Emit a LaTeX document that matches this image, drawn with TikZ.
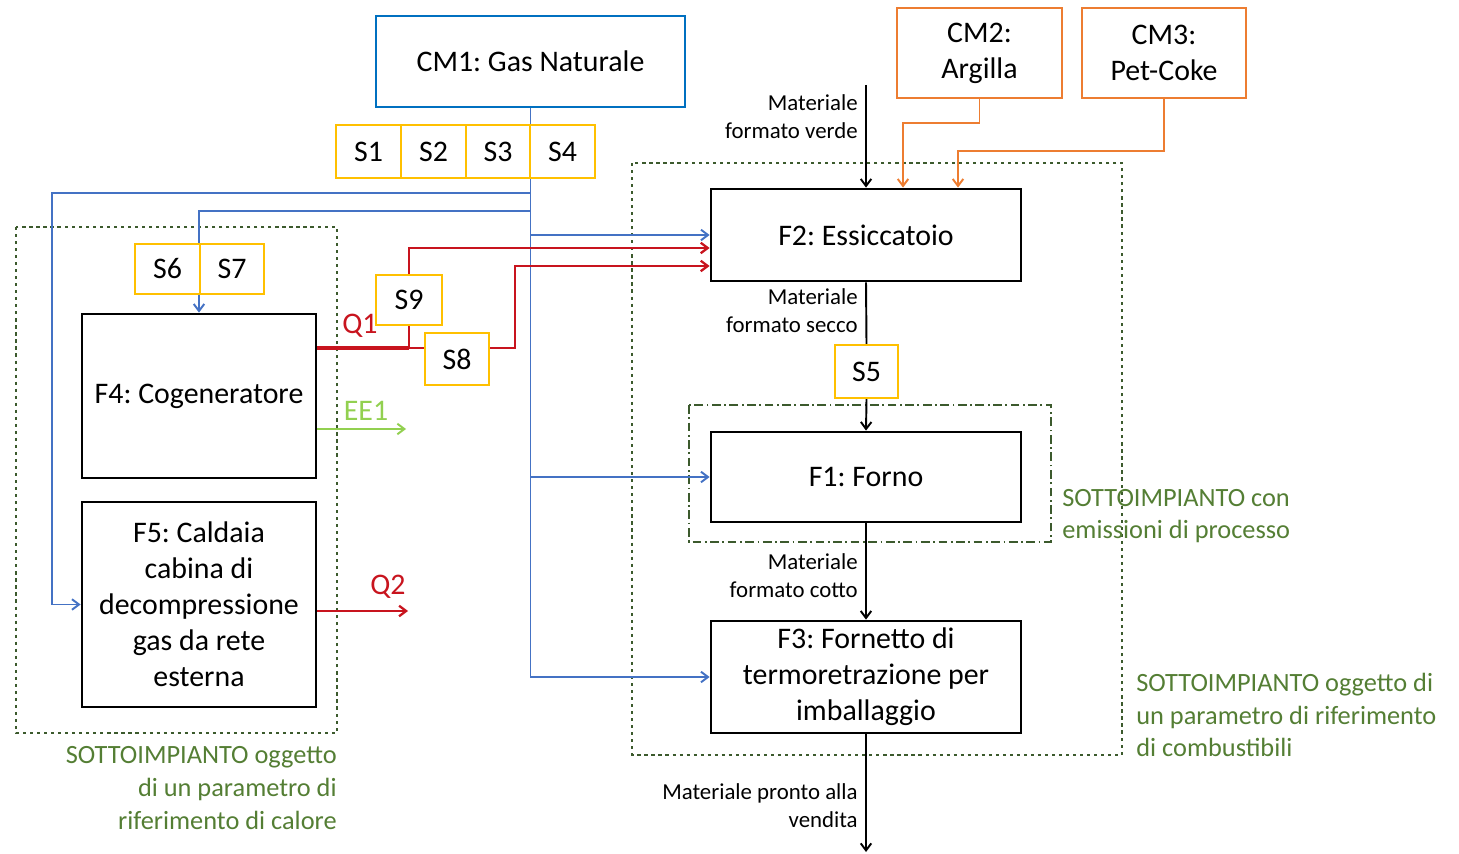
\documentclass[tikz,border=0pt]{standalone}
\usepackage{fontspec}
\setmainfont{Carlito}
\usetikzlibrary{arrows.meta,backgrounds,calc}
\frenchspacing

\definecolor{gasblue}{RGB}{68,114,196}
\definecolor{cmblue}{RGB}{0,112,192}
\definecolor{metergold}{RGB}{255,192,0}
\definecolor{clayorange}{RGB}{237,125,49}
\definecolor{heatred}{RGB}{200,20,30}
\definecolor{elgreen}{RGB}{146,208,80}
\definecolor{zonegreen}{RGB}{84,126,52}
\definecolor{zoneline}{RGB}{60,90,45}

\newcommand{\boxfont}{\fontsize{17}{20.5}\selectfont}
\newcommand{\flowfont}{\fontsize{13}{15.8}\selectfont}
\newcommand{\zonefont}{\fontsize{15}{18.6}\selectfont}

\tikzset{
  unitbox/.style={draw=black, line width=1.6pt, fill=white, align=center, inner sep=1pt, font=\boxfont},
  cmbox/.style={draw=cmblue, line width=1.1pt, fill=white, align=center, inner sep=1pt, font=\boxfont},
  claybox/.style={draw=clayorange, line width=1.1pt, fill=white, align=center, inner sep=1pt, font=\boxfont},
  meterbox/.style={draw=metergold, line width=1.2pt, fill=white, inner sep=0pt, font=\boxfont},
  flowtip/.style={-{Straight Barb[length=4pt,width=6pt]}},
  gasline/.style={draw=gasblue, line width=1.1pt},
  heatline/.style={draw=heatred, line width=1.3pt},
  elline/.style={draw=elgreen, line width=1.1pt},
  clayline/.style={draw=clayorange, line width=1.1pt},
  matline/.style={draw=black, line width=1.1pt},
  zone/.style={draw=zoneline, line width=1.5pt, dash pattern=on 1.8pt off 2.2pt},
  emzone/.style={draw=zoneline, line width=1.3pt, dash pattern=on 5pt off 2pt on 1pt off 2pt},
  flowlabel/.style={inner sep=0pt, align=right, font=\flowfont},
  zonelabel/.style={inner sep=0pt, text=zonegreen, font=\zonefont}
}

\begin{document}
\begin{tikzpicture}[x=0.02cm,y=-0.02cm]
\useasboundingbox (0,0) rectangle (1459,854);

% Drawing sources CM1 CM2 CM3
\node[cmbox, minimum width=6.18cm, minimum height=1.82cm] (CM1) at (530.5,61.5) {CM1: Gas Naturale};
\node[claybox, minimum width=3.3cm, minimum height=1.8cm] (CM2) at (979.5,53) {CM2:\\Argilla};
\node[claybox, minimum width=3.28cm, minimum height=1.8cm] (CM3) at (1164,53) {CM3:\\Pet-Coke};

% Drawing meters
\node[meterbox, minimum width=1.29cm, minimum height=1.06cm] (S1) at (368.5,151.5) {S1};
\node[meterbox, minimum width=1.29cm, minimum height=1.06cm] (S2) at (433.5,151.5) {S2};
\node[meterbox, minimum width=1.29cm, minimum height=1.06cm] (S3) at (498,151.5) {S3};
\node[meterbox, minimum width=1.29cm, minimum height=1.06cm] (S4) at (562.5,151.5) {S4};
\node[meterbox, minimum width=1.3cm, minimum height=1.0cm] (S6) at (167.5,269) {S6};
\node[meterbox, minimum width=1.28cm, minimum height=1.0cm] (S7) at (232,269) {S7};
\node[meterbox, minimum width=1.32cm, minimum height=1.0cm] (S9) at (409,300) {S9};
\node[meterbox, minimum width=1.28cm, minimum height=1.04cm] (S8) at (457,359) {S8};
\node[meterbox, minimum width=1.26cm, minimum height=1.06cm] (S5) at (866.5,371.5) {S5};

% Drawing units F1 ... F5
\node[unitbox, minimum width=4.68cm, minimum height=3.28cm] (F4) at (199,396) {F4: Cogeneratore};
\node[unitbox, minimum width=4.68cm, minimum height=4.1cm] (F5) at (199,604.5) {F5: Caldaia\\cabina di\\decompressione\\gas da rete\\esterna};
\node[unitbox, minimum width=6.2cm, minimum height=1.84cm] (F2) at (866,235) {F2: Essiccatoio};
\node[unitbox, minimum width=6.2cm, minimum height=1.8cm] (F1) at (866,477) {F1: Forno};
\node[unitbox, minimum width=6.2cm, minimum height=2.24cm] (F3) at (866,677) {F3: Fornetto di\\termoretrazione per\\imballaggio};

% Free ends and bends
\coordinate (g1) at (52,193);
\coordinate (g2) at (199,211);
\coordinate (q1) at (316,348);
\coordinate (r8) at (515,348);
\coordinate (ee) at (406,429);
\coordinate (q2) at (408,611);
\coordinate (o2) at (903,123);
\coordinate (o3) at (958,151);
\coordinate (mv) at (866,85);
\coordinate (mout) at (866,852);

\begin{scope}[on background layer]
% Drawing sub-installation boundaries
\draw[zone] (16,227) rectangle (337,733);
\draw[zone] (632,163) rectangle (1122,755);
\draw[emzone] (689,405) rectangle (1051,542);

% Drawing natural gas lines
\draw[gasline, flowtip] (CM1.south) |- (F3.west);
\draw[gasline, flowtip] (CM1.south |- g1) -- (g1) |- (F5.west);
\draw[gasline, flowtip] (CM1.south |- g2) -- (g2) -- (g2 |- F4.north);
\draw[gasline, flowtip] (CM1.south |- F2.west) -- (F2.west);
\draw[gasline, flowtip] (CM1.south |- F1.west) -- (F1.west);

% Drawing heat and power lines
\draw[heatline, line width=1.9pt] (F4.east |- q1) -- (S9.south |- q1);
\draw[heatline] (S9.south |- q1) -- (S8.west |- q1);
\draw[heatline] (S9.south) -- (S9.south |- q1);
\draw[heatline, flowtip] (S9.north) |- ($(F2.west)+(0,13)$);
\draw[heatline, flowtip] (S8.east |- q1) -- (r8) |- ($(F2.west)+(0,31)$);
\draw[heatline, flowtip] (F5.east |- q2) -- (q2);
\draw[elline, flowtip] (F4.east |- ee) -- (ee);

% Drawing raw material lines
\draw[clayline, flowtip] (CM2.south) |- (o2) -- (o2 |- F2.north);
\draw[clayline, flowtip] (CM3.south) |- (o3) -- (o3 |- F2.north);

% Drawing product flow
\draw[matline, flowtip] (mv) -- (F2.north);
\draw[matline] (F2.south) -- (S5.north);
\draw[matline, flowtip] (S5.south) -- (F1.north);
\draw[matline, flowtip] (F1.south) -- (F3.north);
\draw[matline, flowtip] (F3.south) -- (mout);
\end{scope}

% Flow labels
\node[flowlabel, anchor=east] (lverde) at (858,117) {Materiale\\formato verde};
\node[flowlabel, anchor=east] (lsecco) at (858,311) {Materiale\\formato secco};
\node[flowlabel, anchor=east] (lcotto) at (858,576) {Materiale\\formato cotto};
\node[flowlabel, anchor=east] (lpronto) at (858,806) {Materiale pronto alla\\vendita};
\node[inner sep=0pt, text=heatred, font=\boxfont] (lq1) at (360,326) {Q1};
\node[inner sep=0pt, text=elgreen, font=\boxfont] (lee1) at (366,411) {EE1};
\node[inner sep=0pt, text=heatred, font=\boxfont] (lq2) at (388,587) {Q2};

% Sub-installation labels
\node[zonelabel, anchor=east, align=right] (zcalore) at (337,788) {SOTTOIMPIANTO oggetto\\di un parametro di\\riferimento di calore};
\node[zonelabel, anchor=west, align=left] (zprocesso) at (1062,516) {SOTTOIMPIANTO con\\emissioni di processo};
\node[zonelabel, anchor=west, align=left] (zcombust) at (1136,715) {SOTTOIMPIANTO oggetto di\\un parametro di riferimento\\di combustibili};
\end{tikzpicture}
\end{document}
